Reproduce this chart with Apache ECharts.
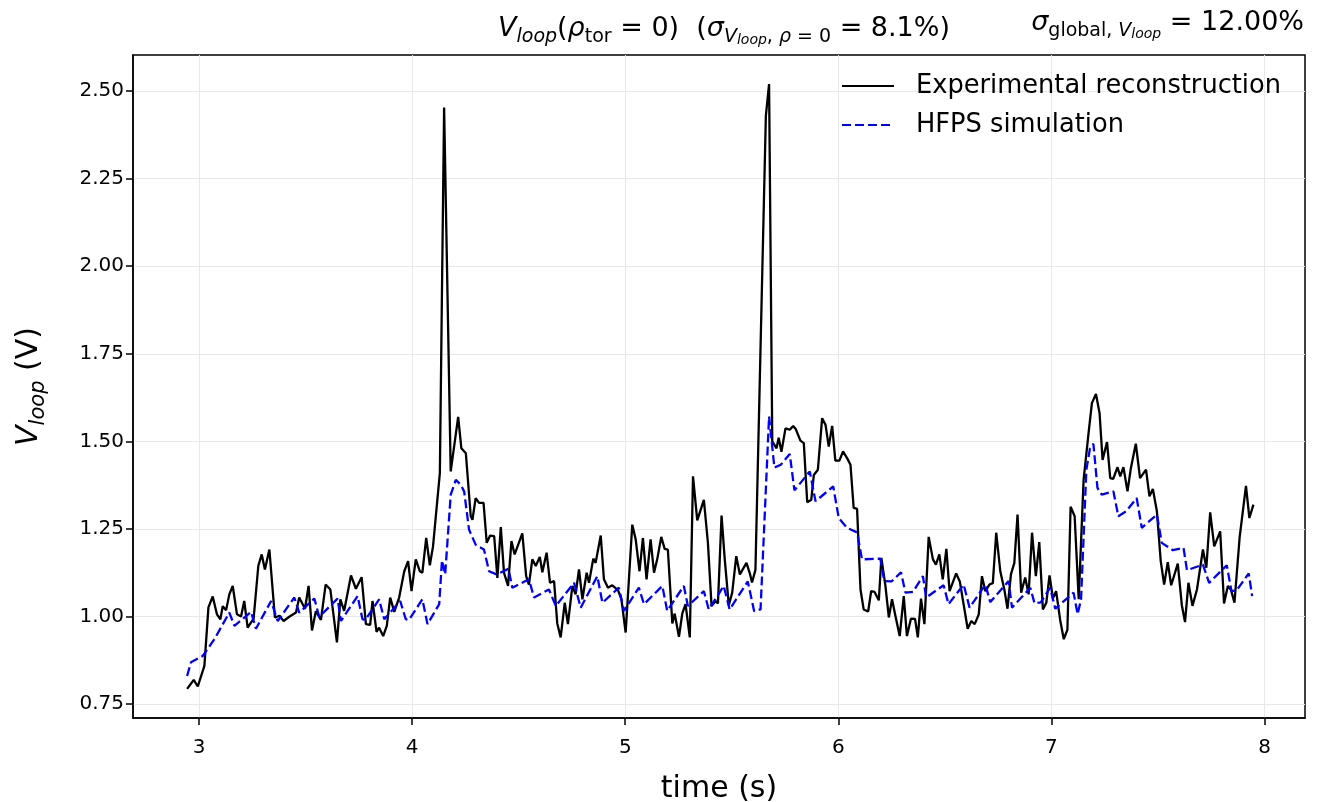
<!DOCTYPE html>
<html>
<head>
<meta charset="utf-8">
<script src="https://cdn.jsdelivr.net/npm/echarts@6/dist/echarts.min.js"></script>
<style>
  html, body { margin: 0; padding: 0; background: #fff; }
  #chart { width: 1317px; height: 802px; }
</style>
</head>
<body>
<div id="chart"></div>
<script>
// experimental reconstruction (black)
var expTime = [2.944, 2.975, 2.994, 3.025, 3.044, 3.064, 3.084, 3.100, 3.111, 3.127, 3.142, 3.158, 3.178, 3.197, 3.212, 3.228, 3.256, 3.278, 3.294, 3.309, 3.330, 3.356, 3.377, 3.397, 3.423, 3.455, 3.470, 3.497, 3.514, 3.530, 3.548, 3.572, 3.594, 3.616, 3.647, 3.663, 3.681, 3.713, 3.736, 3.763, 3.783, 3.803, 3.814, 3.833, 3.845, 3.864, 3.881, 3.897, 3.916, 3.939, 3.963, 3.981, 3.997, 4.017, 4.036, 4.048, 4.066, 4.083, 4.098, 4.130, 4.150, 4.181, 4.216, 4.231, 4.252, 4.275, 4.283, 4.298, 4.314, 4.335, 4.350, 4.366, 4.385, 4.400, 4.416, 4.431, 4.450, 4.466, 4.481, 4.517, 4.535, 4.548, 4.564, 4.580, 4.599, 4.611, 4.631, 4.647, 4.666, 4.681, 4.697, 4.716, 4.731, 4.752, 4.767, 4.783, 4.799, 4.819, 4.830, 4.850, 4.861, 4.885, 4.900, 4.919, 4.939, 4.966, 4.982, 5.002, 5.033, 5.049, 5.067, 5.083, 5.100, 5.119, 5.135, 5.150, 5.169, 5.185, 5.200, 5.221, 5.232, 5.252, 5.268, 5.283, 5.303, 5.318, 5.338, 5.369, 5.388, 5.405, 5.424, 5.435, 5.452, 5.467, 5.486, 5.502, 5.521, 5.538, 5.569, 5.586, 5.595, 5.611, 5.660, 5.675, 5.690, 5.710, 5.720, 5.733, 5.752, 5.772, 5.788, 5.800, 5.822, 5.838, 5.854, 5.873, 5.885, 5.904, 5.924, 5.940, 5.955, 5.971, 5.986, 6.005, 6.022, 6.041, 6.057, 6.072, 6.088, 6.104, 6.119, 6.140, 6.154, 6.170, 6.190, 6.202, 6.221, 6.237, 6.252, 6.268, 6.288, 6.307, 6.322, 6.341, 6.360, 6.373, 6.388, 6.404, 6.424, 6.444, 6.458, 6.474, 6.490, 6.507, 6.522, 6.553, 6.570, 6.607, 6.624, 6.640, 6.659, 6.674, 6.690, 6.709, 6.725, 6.741, 6.760, 6.779, 6.794, 6.810, 6.826, 6.841, 6.858, 6.877, 6.893, 6.909, 6.927, 6.943, 6.960, 6.976, 6.991, 7.007, 7.022, 7.041, 7.058, 7.075, 7.090, 7.109, 7.128, 7.151, 7.175, 7.190, 7.209, 7.226, 7.240, 7.261, 7.276, 7.290, 7.310, 7.323, 7.338, 7.357, 7.373, 7.396, 7.416, 7.444, 7.460, 7.476, 7.495, 7.513, 7.529, 7.546, 7.562, 7.593, 7.612, 7.627, 7.643, 7.662, 7.683, 7.711, 7.727, 7.745, 7.764, 7.792, 7.810, 7.828, 7.843, 7.859, 7.883, 7.913, 7.929, 7.948];
var expVloop = [0.793, 0.819, 0.800, 0.859, 1.026, 1.057, 1.006, 0.992, 1.029, 1.018, 1.063, 1.087, 1.006, 1.000, 1.044, 0.968, 0.994, 1.144, 1.177, 1.134, 1.191, 0.997, 1.002, 0.987, 0.999, 1.011, 1.054, 1.022, 1.087, 0.960, 1.015, 0.990, 1.091, 1.077, 0.926, 1.049, 1.016, 1.117, 1.079, 1.112, 0.978, 0.976, 1.044, 0.956, 0.968, 0.944, 0.973, 1.054, 1.013, 1.054, 1.129, 1.158, 1.072, 1.163, 1.129, 1.125, 1.224, 1.146, 1.200, 1.409, 2.453, 1.414, 1.570, 1.480, 1.466, 1.286, 1.276, 1.338, 1.324, 1.324, 1.210, 1.231, 1.229, 1.110, 1.255, 1.125, 1.087, 1.215, 1.177, 1.237, 1.115, 1.091, 1.163, 1.144, 1.170, 1.126, 1.182, 1.096, 1.101, 0.980, 0.940, 1.039, 0.978, 1.087, 1.063, 1.134, 1.049, 1.125, 1.096, 1.165, 1.153, 1.231, 1.106, 1.082, 1.089, 1.075, 1.049, 0.954, 1.262, 1.220, 1.129, 1.224, 1.106, 1.220, 1.125, 1.163, 1.227, 1.193, 1.191, 0.980, 1.008, 0.942, 1.009, 1.035, 0.940, 1.400, 1.274, 1.333, 1.210, 1.030, 1.044, 1.037, 1.288, 1.163, 1.032, 1.068, 1.172, 1.120, 1.153, 1.120, 1.097, 1.133, 2.430, 2.520, 1.500, 1.480, 1.510, 1.470, 1.537, 1.533, 1.544, 1.535, 1.502, 1.495, 1.326, 1.333, 1.404, 1.419, 1.566, 1.547, 1.485, 1.544, 1.445, 1.445, 1.471, 1.452, 1.433, 1.310, 1.307, 1.077, 1.020, 1.014, 1.072, 1.070, 1.046, 1.167, 1.087, 0.997, 1.049, 1.001, 0.944, 1.058, 0.944, 0.994, 0.993, 0.940, 1.051, 0.978, 1.227, 1.163, 1.148, 1.177, 1.106, 1.193, 1.072, 1.123, 1.100, 0.965, 0.987, 0.978, 1.006, 1.115, 1.072, 1.091, 1.095, 1.239, 1.129, 1.077, 1.022, 1.120, 1.153, 1.291, 1.068, 1.111, 1.063, 1.239, 1.115, 1.212, 1.020, 1.039, 1.117, 1.052, 1.072, 0.990, 0.935, 0.962, 1.313, 1.286, 1.049, 1.390, 1.528, 1.609, 1.635, 1.580, 1.447, 1.498, 1.395, 1.393, 1.426, 1.400, 1.426, 1.357, 1.424, 1.493, 1.395, 1.419, 1.343, 1.364, 1.300, 1.158, 1.091, 1.155, 1.089, 1.151, 1.032, 0.984, 1.096, 1.030, 1.077, 1.191, 1.139, 1.297, 1.200, 1.243, 1.037, 1.087, 1.075, 1.039, 1.224, 1.373, 1.281, 1.319];

// HFPS simulation (blue dashed)
var simTime = [2.944, 2.962, 3.017, 3.072, 3.142, 3.166, 3.244, 3.267, 3.338, 3.369, 3.447, 3.470, 3.541, 3.564, 3.650, 3.666, 3.744, 3.767, 3.780, 3.845, 3.869, 3.944, 3.970, 3.985, 4.048, 4.072, 4.127, 4.140, 4.155, 4.181, 4.205, 4.228, 4.244, 4.267, 4.298, 4.337, 4.361, 4.397, 4.452, 4.470, 4.548, 4.572, 4.642, 4.674, 4.760, 4.791, 4.869, 4.893, 4.970, 4.994, 5.064, 5.088, 5.174, 5.197, 5.275, 5.294, 5.369, 5.392, 5.462, 5.490, 5.575, 5.605, 5.635, 5.675, 5.700, 5.730, 5.772, 5.794, 5.866, 5.893, 5.976, 6.002, 6.041, 6.088, 6.111, 6.197, 6.216, 6.250, 6.294, 6.315, 6.350, 6.397, 6.412, 6.494, 6.517, 6.588, 6.616, 6.690, 6.713, 6.799, 6.815, 6.901, 6.921, 6.950, 6.994, 7.018, 7.072, 7.104, 7.123, 7.139, 7.164, 7.181, 7.197, 7.216, 7.236, 7.291, 7.314, 7.350, 7.400, 7.424, 7.495, 7.518, 7.570, 7.620, 7.636, 7.711, 7.740, 7.823, 7.845, 7.870, 7.926, 7.942];
var simVloop = [0.830, 0.869, 0.887, 0.935, 1.011, 0.973, 1.013, 0.965, 1.044, 0.987, 1.054, 1.011, 1.051, 0.999, 1.051, 0.987, 1.058, 0.992, 0.990, 1.049, 0.992, 1.044, 0.992, 0.990, 1.049, 0.978, 1.035, 1.160, 1.120, 1.348, 1.390, 1.376, 1.357, 1.248, 1.205, 1.191, 1.129, 1.120, 1.136, 1.082, 1.106, 1.054, 1.077, 1.030, 1.096, 1.025, 1.115, 1.039, 1.082, 1.016, 1.082, 1.035, 1.087, 1.016, 1.087, 1.030, 1.072, 1.020, 1.087, 1.020, 1.100, 1.015, 1.020, 1.571, 1.425, 1.433, 1.464, 1.360, 1.414, 1.329, 1.371, 1.281, 1.253, 1.240, 1.163, 1.165, 1.101, 1.100, 1.126, 1.068, 1.070, 1.115, 1.054, 1.089, 1.035, 1.091, 1.025, 1.091, 1.041, 1.101, 1.025, 1.082, 1.037, 1.040, 1.082, 1.022, 1.051, 1.068, 1.006, 1.049, 1.419, 1.480, 1.493, 1.367, 1.348, 1.357, 1.286, 1.300, 1.338, 1.253, 1.291, 1.210, 1.189, 1.196, 1.132, 1.148, 1.096, 1.146, 1.072, 1.075, 1.123, 1.058];

var xTicks = [3, 4, 5, 6, 7, 8];
var yTicks = [0.75, 1.00, 1.25, 1.50, 1.75, 2.00, 2.25, 2.50];

var FONT = "'DejaVu Sans', sans-serif";

function pairs(xs, ys) {
	var out = [];
	for (var i = 0; i < xs.length; i++) {
		out.push([xs[i], ys[i]]);
	}
	return out;
}

// rich styles for the mathtext-like titles
function mathRich(size) {
	var sub = Math.round(size * 0.7);
	var subsub = Math.round(size * 0.5);
	var base = { fontFamily: FONT, color: '#000', fontWeight: 'normal' };
	return {
		n: Object.assign({}, base, { fontSize: size, lineHeight: size + 10 }),
		it: Object.assign({}, base, { fontSize: size, fontStyle: 'italic', lineHeight: size + 10 }),
		sub: Object.assign({}, base, { fontSize: sub, verticalAlign: 'bottom', lineHeight: sub }),
		subi: Object.assign({}, base, { fontSize: sub, fontStyle: 'italic', verticalAlign: 'bottom', lineHeight: sub }),
		subsub: Object.assign({}, base, { fontSize: subsub, fontStyle: 'italic', verticalAlign: 'bottom', lineHeight: subsub - 2 })
	};
}

var chart = echarts.init(document.getElementById('chart'));

var gridLine = { show: true, lineStyle: { color: '#e8e8e8', width: 1 } };

var option = {
	animation: false,
	backgroundColor: '#fff',
	title: [{
		left: 719,
		top: 5,
		textAlign: 'center',
		text: '{it|V}{subi|loop}{n|(}{it|ρ}{sub|tor}{n| = 0)  (}{it|σ}{subi|V}{subsub|loop}{sub|, }{subi|ρ}{sub| = 0}{n| = 8.1%)}',
		textStyle: { fontWeight: 'normal', rich: mathRich(27) }
	}, {
		right: 8,
		top: -1,
		text: '{it|σ}{sub|global, }{subi|V}{subsub|loop}{n| = 12.00%}',
		textStyle: { fontWeight: 'normal', rich: mathRich(27) }
	}],
	legend: {
		right: 31,
		top: 68,
		orient: 'vertical',
		itemGap: 13,
		itemWidth: 52,
		itemHeight: 26,
		itemStyle: { opacity: 0 },
		textStyle: { fontFamily: FONT, fontSize: 25.7, color: '#000', padding: [0, 0, 0, 17] },
		data: ['Experimental reconstruction', 'HFPS simulation']
	},
	grid: {
		left: 133,
		right: 12,
		top: 55,
		bottom: 84,
		outerBoundsMode: 'none',
		show: true,
		borderColor: '#000',
		borderWidth: 1.5
	},
	xAxis: {
		type: 'value',
		min: 2.69,
		max: 8.19,
		name: 'time (s)',
		nameLocation: 'middle',
		nameGap: 56,
		nameTextStyle: { fontFamily: FONT, fontSize: 30, color: '#000' },
		axisLine: { show: true, onZero: false, lineStyle: { color: '#000', width: 1.5 } },
		axisTick: { show: true, length: 7, customValues: xTicks, lineStyle: { color: '#000', width: 1.5 } },
		axisLabel: { customValues: xTicks, margin: 20, fontFamily: FONT, fontSize: 20, color: '#000' },
		splitLine: gridLine
	},
	yAxis: {
		type: 'value',
		min: 0.71,
		max: 2.603,
		name: '{it|V}{subi|loop}{n| (V)}',
		nameLocation: 'middle',
		nameGap: 84,
		nameRotate: 90,
		nameTextStyle: { rich: mathRich(30) },
		axisLine: { show: true, onZero: false, lineStyle: { color: '#000', width: 1.5 } },
		axisTick: { show: true, length: 7, customValues: yTicks, lineStyle: { color: '#000', width: 1.5 } },
		axisLabel: {
			customValues: yTicks,
			margin: 9,
			fontFamily: FONT,
			fontSize: 20,
			color: '#000',
			formatter: function(v) { return v.toFixed(2); }
		},
		splitLine: gridLine
	},
	series: [{
		name: 'Experimental reconstruction',
		type: 'line',
		symbol: 'none',
		color: '#000',
		lineStyle: { color: '#000', width: 2.3 },
		data: pairs(expTime, expVloop),
		z: 3
	}, {
		name: 'HFPS simulation',
		type: 'line',
		symbol: 'none',
		color: '#0000ff',
		lineStyle: { color: '#0000ff', width: 2.3, type: [9, 4] },
		data: pairs(simTime, simVloop),
		z: 4
	}]
};

chart.setOption(option);
</script>
</body>
</html>
